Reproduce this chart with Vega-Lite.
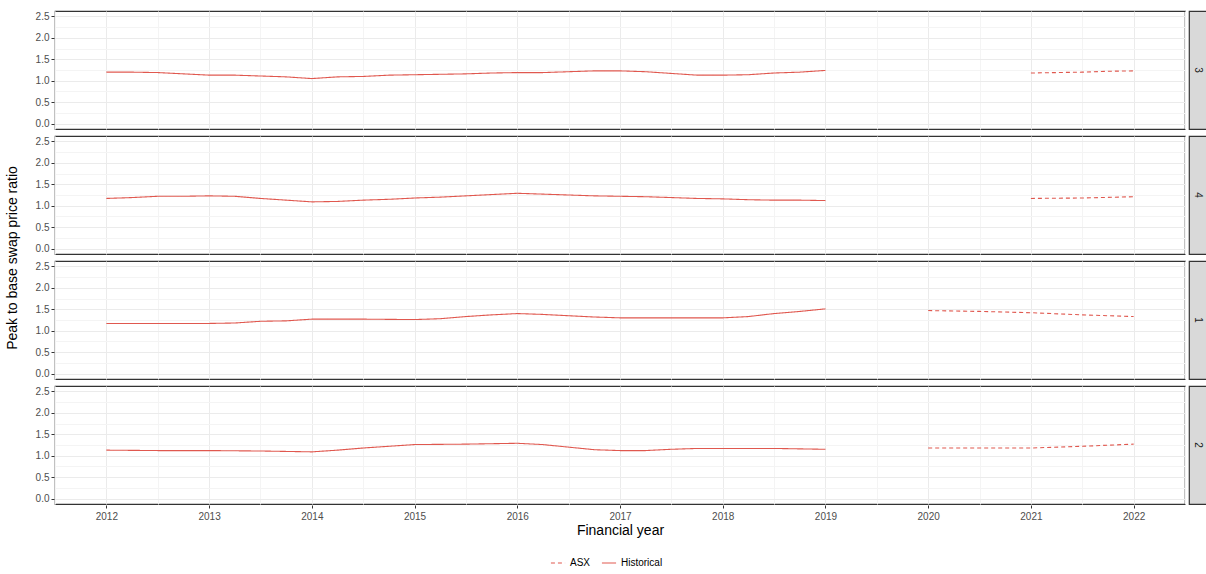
{
  "$schema": "https://vega.github.io/schema/vega-lite/v6.json",
  "background": "white",
  "padding": {"left": 5, "top": 10, "right": 1, "bottom": 0},
  "config": {
    "font": "Liberation Sans",
    "view": {"stroke": "#333333", "strokeWidth": 1.2},
    "axis": {
      "labelColor": "#4D4D4D",
      "labelFontSize": 10,
      "tickColor": "#333333",
      "domain": false,
      "gridColor": "#EBEBEB",
      "titleFontSize": 14,
      "titleFontWeight": "normal",
      "titleColor": "#000000"
    },
    "header": {"titleFontSize": 14, "titleFontWeight": "normal", "titleColor": "#000000", "titlePadding": 5},
    "legend": {
      "labelFontSize": 10,
      "labelColor": "#000000",
      "layout": {"bottom": {"anchor": "middle"}}
    }
  },
  "datasets": {
    "series": [
      {"panel": 3, "series": "Historical", "year": 2012, "ratio": 1.2},
      {"panel": 3, "series": "Historical", "year": 2012.25, "ratio": 1.2},
      {"panel": 3, "series": "Historical", "year": 2012.5, "ratio": 1.19},
      {"panel": 3, "series": "Historical", "year": 2012.75, "ratio": 1.16},
      {"panel": 3, "series": "Historical", "year": 2013, "ratio": 1.13},
      {"panel": 3, "series": "Historical", "year": 2013.25, "ratio": 1.13},
      {"panel": 3, "series": "Historical", "year": 2013.5, "ratio": 1.11},
      {"panel": 3, "series": "Historical", "year": 2013.75, "ratio": 1.09},
      {"panel": 3, "series": "Historical", "year": 2014, "ratio": 1.05},
      {"panel": 3, "series": "Historical", "year": 2014.25, "ratio": 1.09},
      {"panel": 3, "series": "Historical", "year": 2014.5, "ratio": 1.1},
      {"panel": 3, "series": "Historical", "year": 2014.75, "ratio": 1.13},
      {"panel": 3, "series": "Historical", "year": 2015, "ratio": 1.14},
      {"panel": 3, "series": "Historical", "year": 2015.25, "ratio": 1.15},
      {"panel": 3, "series": "Historical", "year": 2015.5, "ratio": 1.16},
      {"panel": 3, "series": "Historical", "year": 2015.75, "ratio": 1.18},
      {"panel": 3, "series": "Historical", "year": 2016, "ratio": 1.19},
      {"panel": 3, "series": "Historical", "year": 2016.25, "ratio": 1.19},
      {"panel": 3, "series": "Historical", "year": 2016.5, "ratio": 1.21},
      {"panel": 3, "series": "Historical", "year": 2016.75, "ratio": 1.23},
      {"panel": 3, "series": "Historical", "year": 2017, "ratio": 1.23},
      {"panel": 3, "series": "Historical", "year": 2017.25, "ratio": 1.21},
      {"panel": 3, "series": "Historical", "year": 2017.5, "ratio": 1.17},
      {"panel": 3, "series": "Historical", "year": 2017.75, "ratio": 1.13},
      {"panel": 3, "series": "Historical", "year": 2018, "ratio": 1.13},
      {"panel": 3, "series": "Historical", "year": 2018.25, "ratio": 1.14},
      {"panel": 3, "series": "Historical", "year": 2018.5, "ratio": 1.18},
      {"panel": 3, "series": "Historical", "year": 2018.75, "ratio": 1.2},
      {"panel": 3, "series": "Historical", "year": 2019, "ratio": 1.24},
      {"panel": 3, "series": "ASX", "year": 2021, "ratio": 1.18},
      {"panel": 3, "series": "ASX", "year": 2021.25, "ratio": 1.19},
      {"panel": 3, "series": "ASX", "year": 2021.5, "ratio": 1.2},
      {"panel": 3, "series": "ASX", "year": 2021.75, "ratio": 1.22},
      {"panel": 3, "series": "ASX", "year": 2022, "ratio": 1.23},

      {"panel": 4, "series": "Historical", "year": 2012, "ratio": 1.17},
      {"panel": 4, "series": "Historical", "year": 2012.25, "ratio": 1.19},
      {"panel": 4, "series": "Historical", "year": 2012.5, "ratio": 1.22},
      {"panel": 4, "series": "Historical", "year": 2012.75, "ratio": 1.22},
      {"panel": 4, "series": "Historical", "year": 2013, "ratio": 1.23},
      {"panel": 4, "series": "Historical", "year": 2013.25, "ratio": 1.22},
      {"panel": 4, "series": "Historical", "year": 2013.5, "ratio": 1.17},
      {"panel": 4, "series": "Historical", "year": 2013.75, "ratio": 1.13},
      {"panel": 4, "series": "Historical", "year": 2014, "ratio": 1.09},
      {"panel": 4, "series": "Historical", "year": 2014.25, "ratio": 1.1},
      {"panel": 4, "series": "Historical", "year": 2014.5, "ratio": 1.13},
      {"panel": 4, "series": "Historical", "year": 2014.75, "ratio": 1.15},
      {"panel": 4, "series": "Historical", "year": 2015, "ratio": 1.18},
      {"panel": 4, "series": "Historical", "year": 2015.25, "ratio": 1.2},
      {"panel": 4, "series": "Historical", "year": 2015.5, "ratio": 1.23},
      {"panel": 4, "series": "Historical", "year": 2015.75, "ratio": 1.26},
      {"panel": 4, "series": "Historical", "year": 2016, "ratio": 1.29},
      {"panel": 4, "series": "Historical", "year": 2016.25, "ratio": 1.27},
      {"panel": 4, "series": "Historical", "year": 2016.5, "ratio": 1.25},
      {"panel": 4, "series": "Historical", "year": 2016.75, "ratio": 1.23},
      {"panel": 4, "series": "Historical", "year": 2017, "ratio": 1.22},
      {"panel": 4, "series": "Historical", "year": 2017.25, "ratio": 1.21},
      {"panel": 4, "series": "Historical", "year": 2017.5, "ratio": 1.19},
      {"panel": 4, "series": "Historical", "year": 2017.75, "ratio": 1.17},
      {"panel": 4, "series": "Historical", "year": 2018, "ratio": 1.16},
      {"panel": 4, "series": "Historical", "year": 2018.25, "ratio": 1.14},
      {"panel": 4, "series": "Historical", "year": 2018.5, "ratio": 1.13},
      {"panel": 4, "series": "Historical", "year": 2018.75, "ratio": 1.13},
      {"panel": 4, "series": "Historical", "year": 2019, "ratio": 1.12},
      {"panel": 4, "series": "ASX", "year": 2021, "ratio": 1.17},
      {"panel": 4, "series": "ASX", "year": 2021.5, "ratio": 1.18},
      {"panel": 4, "series": "ASX", "year": 2022, "ratio": 1.21},

      {"panel": 1, "series": "Historical", "year": 2012, "ratio": 1.17},
      {"panel": 1, "series": "Historical", "year": 2012.5, "ratio": 1.17},
      {"panel": 1, "series": "Historical", "year": 2013, "ratio": 1.17},
      {"panel": 1, "series": "Historical", "year": 2013.25, "ratio": 1.18},
      {"panel": 1, "series": "Historical", "year": 2013.5, "ratio": 1.22},
      {"panel": 1, "series": "Historical", "year": 2013.75, "ratio": 1.23},
      {"panel": 1, "series": "Historical", "year": 2014, "ratio": 1.27},
      {"panel": 1, "series": "Historical", "year": 2014.5, "ratio": 1.27},
      {"panel": 1, "series": "Historical", "year": 2015, "ratio": 1.26},
      {"panel": 1, "series": "Historical", "year": 2015.25, "ratio": 1.28},
      {"panel": 1, "series": "Historical", "year": 2015.5, "ratio": 1.33},
      {"panel": 1, "series": "Historical", "year": 2015.75, "ratio": 1.37},
      {"panel": 1, "series": "Historical", "year": 2016, "ratio": 1.4},
      {"panel": 1, "series": "Historical", "year": 2016.25, "ratio": 1.38},
      {"panel": 1, "series": "Historical", "year": 2016.5, "ratio": 1.35},
      {"panel": 1, "series": "Historical", "year": 2016.75, "ratio": 1.32},
      {"panel": 1, "series": "Historical", "year": 2017, "ratio": 1.3},
      {"panel": 1, "series": "Historical", "year": 2017.5, "ratio": 1.3},
      {"panel": 1, "series": "Historical", "year": 2018, "ratio": 1.3},
      {"panel": 1, "series": "Historical", "year": 2018.25, "ratio": 1.33},
      {"panel": 1, "series": "Historical", "year": 2018.5, "ratio": 1.4},
      {"panel": 1, "series": "Historical", "year": 2018.75, "ratio": 1.45},
      {"panel": 1, "series": "Historical", "year": 2019, "ratio": 1.51},
      {"panel": 1, "series": "ASX", "year": 2020, "ratio": 1.47},
      {"panel": 1, "series": "ASX", "year": 2020.5, "ratio": 1.45},
      {"panel": 1, "series": "ASX", "year": 2021, "ratio": 1.42},
      {"panel": 1, "series": "ASX", "year": 2021.5, "ratio": 1.37},
      {"panel": 1, "series": "ASX", "year": 2022, "ratio": 1.33},

      {"panel": 2, "series": "Historical", "year": 2012, "ratio": 1.13},
      {"panel": 2, "series": "Historical", "year": 2012.5, "ratio": 1.12},
      {"panel": 2, "series": "Historical", "year": 2013, "ratio": 1.12},
      {"panel": 2, "series": "Historical", "year": 2013.5, "ratio": 1.11},
      {"panel": 2, "series": "Historical", "year": 2014, "ratio": 1.09},
      {"panel": 2, "series": "Historical", "year": 2014.25, "ratio": 1.13},
      {"panel": 2, "series": "Historical", "year": 2014.5, "ratio": 1.18},
      {"panel": 2, "series": "Historical", "year": 2014.75, "ratio": 1.22},
      {"panel": 2, "series": "Historical", "year": 2015, "ratio": 1.26},
      {"panel": 2, "series": "Historical", "year": 2015.5, "ratio": 1.27},
      {"panel": 2, "series": "Historical", "year": 2016, "ratio": 1.29},
      {"panel": 2, "series": "Historical", "year": 2016.25, "ratio": 1.26},
      {"panel": 2, "series": "Historical", "year": 2016.5, "ratio": 1.2},
      {"panel": 2, "series": "Historical", "year": 2016.75, "ratio": 1.14},
      {"panel": 2, "series": "Historical", "year": 2017, "ratio": 1.12},
      {"panel": 2, "series": "Historical", "year": 2017.25, "ratio": 1.12},
      {"panel": 2, "series": "Historical", "year": 2017.5, "ratio": 1.15},
      {"panel": 2, "series": "Historical", "year": 2017.75, "ratio": 1.17},
      {"panel": 2, "series": "Historical", "year": 2018, "ratio": 1.17},
      {"panel": 2, "series": "Historical", "year": 2018.5, "ratio": 1.17},
      {"panel": 2, "series": "Historical", "year": 2019, "ratio": 1.15},
      {"panel": 2, "series": "ASX", "year": 2020, "ratio": 1.18},
      {"panel": 2, "series": "ASX", "year": 2020.5, "ratio": 1.18},
      {"panel": 2, "series": "ASX", "year": 2021, "ratio": 1.18},
      {"panel": 2, "series": "ASX", "year": 2021.5, "ratio": 1.22},
      {"panel": 2, "series": "ASX", "year": 2022, "ratio": 1.27}
    ],
    "strips": [
      {"panel": 3}, {"panel": 4}, {"panel": 1}, {"panel": 2}
    ]
  },
  "hconcat": [
    {
      "data": {"name": "series"},
      "facet": {
        "row": {
          "field": "panel",
          "type": "ordinal",
          "sort": [3, 4, 1, 2],
          "title": "Peak to base swap price ratio",
          "header": {"labels": false, "titleOrient": "left"}
        }
      },
      "spacing": 5,
      "spec": {
        "width": 1130,
        "height": 118,
        "mark": {"type": "line", "color": "#E0584F", "strokeWidth": 1.1},
        "encoding": {
          "x": {
            "field": "year",
            "type": "quantitative",
            "title": "Financial year",
            "scale": {"domain": [2011.5, 2022.5], "nice": false, "zero": false},
            "axis": {
              "values": [2011.5, 2012, 2012.5, 2013, 2013.5, 2014, 2014.5, 2015, 2015.5, 2016, 2016.5, 2017, 2017.5, 2018, 2018.5, 2019, 2019.5, 2020, 2020.5, 2021, 2021.5, 2022, 2022.5],
              "labelExpr": "datum.value % 1 === 0 ? format(datum.value, 'd') : ''",
              "tickColor": {"condition": {"test": "datum.value % 1 !== 0", "value": "transparent"}, "value": "#333333"},
              "gridColor": {"condition": {"test": "datum.value % 1 !== 0", "value": "#F4F4F4"}, "value": "#EBEBEB"},
              "tickSize": 3,
              "labelPadding": 3,
              "titlePadding": 2
            }
          },
          "y": {
            "field": "ratio",
            "type": "quantitative",
            "title": null,
            "scale": {"domain": [-0.125, 2.625], "nice": false, "zero": false},
            "axis": {
              "values": [0, 0.25, 0.5, 0.75, 1, 1.25, 1.5, 1.75, 2, 2.25, 2.5],
              "labelExpr": "(datum.value * 2) % 1 === 0 ? format(datum.value, '.1f') : ''",
              "tickColor": {"condition": {"test": "(datum.value * 2) % 1 !== 0", "value": "transparent"}, "value": "#333333"},
              "gridColor": {"condition": {"test": "(datum.value * 2) % 1 !== 0", "value": "#F4F4F4"}, "value": "#EBEBEB"},
              "tickSize": 3,
              "labelPadding": 2
            }
          },
          "strokeDash": {
            "field": "series",
            "type": "nominal",
            "title": null,
            "scale": {"domain": ["ASX", "Historical"], "range": [[4, 3], [1, 0]]},
            "legend": {
              "orient": "bottom",
              "direction": "horizontal",
              "symbolType": "stroke",
              "symbolStrokeColor": "#E0584F",
              "symbolStrokeWidth": 1.1,
              "symbolSize": 200,
              "columnPadding": 8,
              "offset": 18
            }
          }
        }
      }
    },
    {
      "data": {"name": "strips"},
      "facet": {
        "row": {"field": "panel", "type": "ordinal", "sort": [3, 4, 1, 2], "header": {"labels": false, "title": null}}
      },
      "spacing": 5,
      "spec": {
        "width": 18,
        "height": 118,
        "view": {"fill": "#D9D9D9", "stroke": "#333333", "strokeWidth": 1.2},
        "mark": {"type": "text", "angle": 90, "fontSize": 10, "color": "#1A1A1A"},
        "encoding": {
          "text": {"field": "panel", "type": "nominal"}
        }
      }
    }
  ],
  "spacing": 2
}
